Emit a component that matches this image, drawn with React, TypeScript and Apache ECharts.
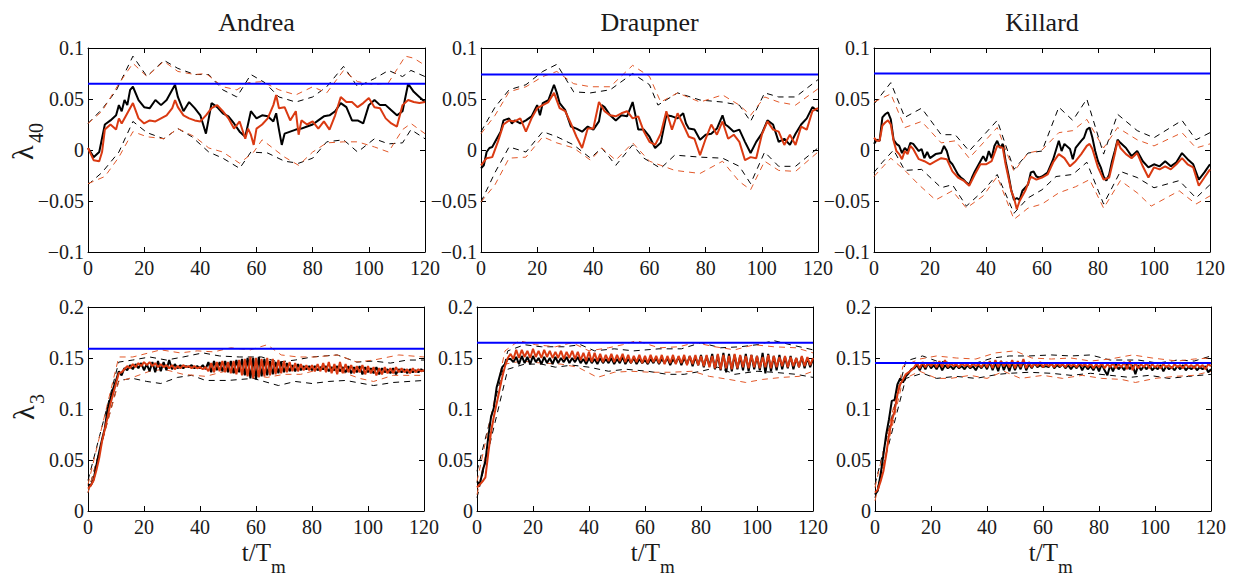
import React, { useEffect, useRef } from "react";
import * as echarts from "echarts";

const FONT = "'Liberation Serif', 'Times New Roman', serif";
const TXT = "#1a1a1a";
const RED = "#DA3A12";
const RED_D = "#E2592A";
const BLUE = "#0000FF";

const titles = ["Andrea", "Draupner", "Killard"];
const xMin = 0, xMax = 120, xStep = 20;
const topRange = [-0.1, 0.1];
const botRange = [0, 0.2];
const yStep = 0.05;

// ---------- lambda_40 (top row) : [t, value] ----------
const andreaL40Black = [[0,.002],[2,-.007],[4,-.002],[6,.025],[8,.029],[10,.034],[11,.044],[12,.038],[13,.049],[14,.044],[15,.059],[16,.062],[18,.049],[20,.042],[22,.041],[24,.049],[26,.044],[28,.049],[30,.059],[31,.064],[32,.052],[34,.038],[36,.047],[38,.041],[40,.034],[42,.016],[43,.031],[44,.046],[46,.042],[48,.036],[50,.033],[52,.026],[54,.018],[56,.013],[58,.038],[60,.031],[62,.034],[64,.033],[66,.028],[67,.036],[68,.020],[69,.005],[70,.016],[72,.018],[74,.020],[76,.021],[78,.023],[80,.025],[82,.029],[84,.033],[86,.034],[88,.038],[90,.046],[92,.042],[94,.029],[96,.029],[98,.026],[100,.044],[102,.049],[104,.044],[106,.044],[108,.039],[110,.034],[112,.038],[114,.065],[116,.057],[118,.052],[120,.047]];
const andreaL40Red = [[0,.002],[2,-.010],[4,-.011],[5,-.002],[6,.020],[8,.025],[10,.020],[11,.031],[12,.026],[14,.036],[16,.046],[18,.031],[20,.026],[22,.029],[24,.028],[26,.031],[28,.034],[30,.041],[31,.049],[32,.042],[34,.034],[36,.031],[38,.029],[40,.028],[42,.034],[44,.041],[46,.044],[48,.038],[50,.031],[52,.021],[54,.028],[56,.011],[57,.021],[58,.015],[59,.005],[60,.021],[62,.025],[64,.031],[66,.044],[67,.054],[68,.041],[70,.042],[72,.029],[74,.038],[75,.015],[76,.029],[78,.025],[80,.028],[82,.021],[84,.028],[86,.020],[88,.034],[90,.052],[92,.047],[94,.047],[96,.042],[98,.046],[100,.051],[102,.042],[104,.041],[106,.031],[108,.026],[110,.023],[112,.044],[114,.049],[116,.047],[118,.046],[120,.047]];
const andreaL40BlackUp = [[0,.026],[5,.040],[10,.058],[16,.092],[21,.072],[27,.088],[32,.080],[38,.074],[43,.074],[48,.059],[53,.052],[58,.074],[63,.066],[68,.052],[74,.047],[80,.052],[85,.062],[91,.082],[96,.062],[102,.070],[107,.078],[112,.072],[115,.078],[120,.072]];
const andreaL40RedUp = [[0,.026],[5,.038],[11,.065],[16,.085],[21,.072],[27,.087],[32,.077],[38,.074],[42,.075],[48,.062],[53,.059],[57,.066],[62,.067],[68,.059],[74,.054],[80,.062],[85,.056],[91,.078],[96,.067],[102,.064],[107,.066],[113,.092],[116,.090],[120,.083]];
const andreaL40BlackLo = [[0,-.034],[5,-.022],[11,-.002],[16,.028],[21,.017],[27,.011],[32,.021],[37,.013],[43,-.002],[48,-.008],[54,-.018],[58,-.002],[64,-.003],[70,-.011],[75,-.013],[80,-.008],[85,.008],[91,.010],[96,-.002],[102,.011],[107,.006],[112,.007],[115,.020],[120,.011]];
const andreaL40RedLo = [[0,-.033],[6,-.026],[11,-.007],[16,.018],[21,.013],[27,.011],[32,.021],[38,.013],[43,.002],[48,-.002],[54,-.013],[59,-.002],[62,.010],[70,-.007],[75,-.015],[80,-.002],[85,.007],[91,.008],[96,.008],[102,.003],[107,-.002],[112,.020],[115,.026],[120,.016]];

const draupnerL40Black = [[0,-.018],[1,-.015],[2,-.002],[3,.002],[4,.003],[6,.013],[7,.018],[8,.029],[10,.031],[11,.026],[12,.029],[14,.026],[16,.029],[18,.033],[20,.044],[21,.034],[22,.046],[24,.049],[26,.064],[27,.056],[28,.046],[30,.039],[32,.023],[34,.021],[36,.018],[38,.023],[40,.020],[42,.028],[43,.044],[44,.042],[46,.034],[48,.029],[50,.034],[52,.033],[54,.047],[55,.034],[56,.020],[58,.020],[60,.013],[62,.002],[64,.007],[66,.034],[68,.033],[70,.031],[72,.036],[73,.026],[74,.021],[76,.020],[78,.010],[80,.015],[82,.016],[84,.021],[86,.034],[87,.025],[88,.023],[90,.018],[92,.020],[94,.008],[96,-.003],[98,.008],[100,.016],[102,.029],[104,.025],[106,.008],[108,.011],[110,.005],[112,.016],[114,.025],[116,.031],[118,.042],[120,.038]];
const draupnerL40Red = [[0,-.015],[2,-.008],[4,-.007],[6,.008],[8,.025],[10,.029],[12,.028],[14,.031],[16,.018],[18,.031],[20,.041],[22,.044],[24,.047],[26,.056],[28,.041],[30,.038],[32,.026],[34,.013],[36,.002],[38,.021],[40,.021],[42,.047],[44,.038],[46,.034],[48,.033],[50,.036],[52,.038],[54,.031],[56,.033],[58,.018],[60,.008],[62,.005],[64,.016],[66,.038],[68,.020],[70,.036],[72,.025],[74,.013],[76,.011],[78,-.005],[80,.011],[82,.025],[84,.015],[86,.028],[88,.011],[90,.015],[92,.008],[94,-.010],[96,-.007],[98,-.008],[100,.015],[102,.028],[104,.020],[106,.018],[108,.005],[110,.015],[112,.005],[114,.023],[116,.020],[118,.038],[120,.041]];
const draupnerL40BlackUp = [[0,.018],[5,.042],[10,.059],[16,.064],[22,.077],[27,.084],[33,.057],[39,.056],[46,.059],[54,.075],[60,.064],[63,.044],[70,.056],[78,.049],[86,.047],[92,.044],[96,.028],[101,.056],[106,.052],[112,.052],[120,.069]];
const draupnerL40RedUp = [[0,.016],[5,.034],[10,.057],[16,.062],[22,.072],[27,.077],[33,.065],[39,.062],[46,.062],[54,.083],[60,.072],[64,.047],[70,.056],[78,.047],[86,.054],[92,.044],[96,.034],[101,.052],[106,.047],[112,.044],[120,.060]];
const draupnerL40BlackLo = [[0,-.051],[5,-.022],[10,.003],[16,-.002],[22,.018],[27,.013],[33,.005],[39,-.008],[43,.002],[48,-.015],[54,.005],[58,-.008],[64,-.018],[69,-.005],[78,-.007],[86,-.008],[92,-.016],[96,-.033],[101,-.002],[106,-.016],[112,-.016],[120,.002]];
const draupnerL40RedLo = [[0,-.051],[5,-.034],[10,-.008],[16,-.007],[22,.013],[27,.007],[33,.002],[39,-.010],[43,.002],[48,-.010],[54,.007],[60,-.011],[64,-.015],[69,-.020],[78,-.023],[86,-.011],[92,-.031],[96,-.039],[101,-.011],[106,-.020],[112,-.021],[120,-.002]];

const killardL40Black = [[0,.006],[1,.010],[2,.009],[3,.032],[4,.035],[5,.037],[6,.030],[7,.010],[8,.006],[9,.004],[10,-.003],[11,.002],[12,-.001],[13,.007],[14,.006],[16,-.001],[17,.001],[18,-.008],[19,-.002],[20,-.008],[22,-.004],[24,-.003],[25,.004],[26,-.001],[27,-.011],[28,-.014],[29,-.019],[30,-.024],[31,-.027],[32,-.029],[33,-.032],[34,-.034],[35,-.027],[36,-.021],[38,-.011],[39,-.006],[40,-.011],[41,-.001],[42,-.008],[43,.004],[44,.009],[45,.002],[46,.006],[47,-.011],[48,-.024],[49,-.039],[50,-.049],[51,-.047],[52,-.049],[53,-.040],[54,-.037],[55,-.034],[56,-.022],[57,-.021],[58,-.026],[59,-.027],[60,-.026],[62,-.022],[64,-.009],[66,.009],[67,-.001],[68,.006],[70,.001],[71,-.009],[72,.002],[74,.009],[75,.012],[76,.020],[77,.022],[78,.012],[79,-.001],[80,-.011],[81,-.017],[82,-.026],[83,-.030],[84,-.024],[85,-.011],[86,-.001],[87,.010],[88,.007],[90,.002],[92,-.006],[94,-.001],[96,-.011],[98,-.017],[100,-.014],[102,-.016],[104,-.011],[106,-.016],[108,-.012],[110,-.003],[112,-.009],[114,-.014],[116,-.029],[118,-.022],[120,-.014]];
const killardL40Red = [[0,.012],[1,.009],[2,.009],[3,.024],[4,.027],[5,.029],[6,.025],[7,.009],[8,-.001],[9,-.004],[10,-.009],[11,-.001],[12,-.004],[13,.004],[14,.001],[16,-.009],[18,-.011],[20,-.014],[22,-.011],[24,-.008],[26,-.009],[28,-.021],[30,-.027],[32,-.030],[34,-.035],[36,-.024],[38,-.014],[40,-.014],[42,-.011],[44,.004],[46,.002],[47,-.014],[48,-.027],[49,-.040],[50,-.047],[51,-.058],[52,-.050],[54,-.040],[56,-.026],[58,-.029],[60,-.027],[62,-.024],[64,-.012],[66,-.004],[68,-.008],[70,-.016],[72,-.011],[74,-.004],[76,.004],[77,.006],[78,.001],[80,-.017],[82,-.029],[84,-.027],[86,-.004],[87,.009],[88,.002],[90,-.004],[92,-.008],[94,-.003],[96,-.016],[98,-.027],[100,-.017],[102,-.019],[104,-.016],[106,-.019],[108,-.014],[110,-.008],[112,-.014],[114,-.017],[116,-.035],[118,-.027],[120,-.019]];
const killardL40BlackUp = [[0,.045],[6,.066],[11,.032],[17,.041],[24,.015],[29,.015],[34,-.001],[44,.029],[50,-.019],[55,-.003],[60,-.001],[66,.042],[71,.029],[76,.050],[82,-.004],[87,.035],[94,.019],[100,.012],[110,.029],[115,.010],[120,.017]];
const killardL40RedUp = [[0,.047],[6,.055],[11,.022],[17,.028],[24,.007],[29,.009],[34,-.008],[44,.022],[50,-.021],[55,-.003],[60,.000],[66,.017],[71,.019],[76,.030],[82,.002],[87,.022],[94,.010],[100,.004],[110,.017],[115,.002],[120,.006]];
const killardL40BlackLo = [[0,-.022],[3,-.012],[7,.000],[11,-.020],[17,-.019],[24,-.037],[28,-.034],[33,-.055],[39,-.040],[44,-.024],[50,-.062],[55,-.047],[60,-.039],[65,-.026],[71,-.024],[76,-.012],[82,-.053],[88,-.021],[94,-.027],[100,-.037],[109,-.030],[115,-.047],[120,-.034]];
const killardL40RedLo = [[0,-.026],[6,-.008],[11,-.020],[16,-.034],[22,-.049],[28,-.040],[33,-.057],[39,-.045],[44,-.026],[50,-.068],[55,-.057],[60,-.053],[66,-.042],[72,-.036],[77,-.029],[82,-.057],[88,-.030],[94,-.042],[99,-.055],[109,-.040],[115,-.053],[120,-.045]];

// ---------- lambda_3 (bottom row) : one value per t = 0..120 ----------
const andreaL3Black = [
  .026,.025,.031,.045,.058,.070,.081,.100,.110,.120,
  .128,.137,.133,.140,.138,.143,.139,.144,.140,.145,
  .138,.144,.137,.146,.136,.147,.137,.146,.138,.148,
  .139,.144,.140,.143,.140,.142,.141,.143,.140,.142,
  .140,.143,.139,.146,.136,.147,.138,.146,.137,.147,
  .136,.147,.135,.148,.136,.149,.133,.150,.130,.150,
  .129,.151,.132,.149,.133,.147,.134,.146,.135,.146,
  .136,.145,.137,.143,.137,.144,.138,.142,.139,.142,
  .138,.142,.138,.141,.139,.142,.137,.141,.138,.142,
  .137,.141,.136,.142,.135,.141,.136,.142,.134,.141,
  .136,.140,.135,.141,.134,.140,.136,.139,.135,.140,
  .134,.139,.136,.139,.135,.139,.136,.138,.136,.139,
  .137];
const andreaL3Red = [
  .022,.025,.030,.040,.052,.068,.080,.092,.105,.115,
  .125,.135,.136,.139,.142,.140,.144,.141,.145,.142,
  .146,.143,.146,.142,.145,.141,.144,.141,.143,.140,
  .143,.139,.142,.140,.143,.141,.142,.140,.142,.140,
  .141,.139,.141,.137,.145,.136,.146,.137,.147,.136,
  .146,.135,.147,.134,.148,.133,.149,.132,.151,.130,
  .150,.131,.149,.132,.150,.133,.149,.134,.148,.135,
  .147,.136,.146,.137,.145,.137,.144,.138,.143,.138,
  .143,.137,.144,.137,.145,.136,.146,.135,.144,.134,
  .146,.135,.144,.136,.143,.135,.142,.136,.143,.134,
  .142,.135,.141,.133,.140,.134,.141,.135,.140,.135,
  .141,.136,.140,.136,.139,.135,.140,.136,.139,.137,
  .138];
const draupnerL3Black = [
  .029,.026,.039,.049,.072,.092,.101,.121,.131,.141,
  .144,.149,.149,.146,.151,.144,.152,.145,.151,.144,
  .152,.146,.150,.144,.151,.145,.150,.144,.151,.145,
  .150,.146,.151,.145,.150,.146,.151,.145,.149,.144,
  .150,.145,.149,.144,.150,.145,.149,.145,.150,.144,
  .149,.145,.151,.144,.149,.145,.150,.144,.149,.145,
  .148,.144,.149,.145,.150,.144,.149,.145,.150,.143,
  .149,.145,.151,.143,.150,.144,.152,.142,.151,.143,
  .153,.141,.152,.142,.154,.139,.153,.138,.155,.136,
  .154,.137,.153,.139,.152,.138,.154,.137,.153,.139,
  .152,.138,.155,.135,.154,.137,.152,.138,.153,.139,
  .151,.140,.152,.139,.150,.141,.151,.140,.150,.141,
  .149];
const draupnerL3Red = [
  .023,.026,.029,.033,.056,.077,.092,.105,.118,.131,
  .142,.150,.154,.149,.158,.150,.158,.151,.157,.150,
  .159,.151,.157,.150,.158,.151,.157,.150,.156,.150,
  .157,.149,.156,.150,.157,.149,.156,.148,.155,.147,
  .156,.146,.155,.147,.154,.146,.153,.147,.154,.146,
  .153,.147,.154,.146,.153,.145,.152,.146,.153,.145,
  .152,.145,.153,.146,.152,.145,.153,.144,.152,.145,
  .153,.144,.152,.145,.153,.143,.152,.144,.153,.143,
  .152,.142,.153,.141,.152,.140,.154,.139,.153,.140,
  .152,.139,.154,.140,.153,.141,.152,.140,.153,.141,
  .152,.140,.151,.141,.153,.140,.152,.141,.151,.142,
  .152,.141,.151,.142,.150,.141,.152,.142,.151,.143,
  .150];
const killardL3Black = [
  .016,.020,.036,.055,.075,.090,.108,.109,.124,.130,
  .126,.132,.135,.139,.140,.143,.138,.144,.139,.145,
  .140,.143,.139,.144,.138,.143,.140,.142,.139,.143,
  .140,.142,.139,.143,.140,.142,.138,.143,.140,.144,
  .139,.146,.138,.145,.137,.147,.138,.145,.137,.146,
  .138,.145,.139,.147,.138,.144,.140,.145,.141,.143,
  .141,.142,.141,.145,.140,.143,.141,.144,.140,.143,
  .139,.143,.140,.144,.138,.143,.139,.142,.138,.143,
  .137,.144,.138,.133,.143,.137,.144,.139,.142,.138,
  .144,.139,.143,.134,.143,.138,.142,.139,.143,.138,
  .141,.139,.143,.137,.142,.139,.141,.138,.142,.139,
  .143,.138,.141,.139,.142,.138,.141,.139,.142,.136,
  .139];
const killardL3Red = [
  .018,.021,.029,.039,.055,.075,.088,.098,.114,.124,
  .129,.134,.136,.138,.141,.145,.140,.146,.141,.145,
  .142,.146,.141,.147,.141,.148,.141,.145,.142,.144,
  .141,.145,.142,.144,.141,.145,.142,.144,.141,.146,
  .141,.147,.140,.148,.141,.147,.142,.146,.141,.148,
  .140,.147,.141,.149,.140,.146,.141,.145,.142,.146,
  .141,.145,.142,.144,.141,.145,.142,.144,.141,.145,
  .142,.144,.141,.145,.142,.144,.141,.145,.140,.144,
  .141,.145,.140,.144,.141,.145,.140,.144,.141,.146,
  .139,.147,.138,.145,.140,.144,.141,.145,.140,.144,
  .141,.143,.140,.144,.141,.143,.140,.144,.141,.143,
  .140,.144,.141,.143,.140,.144,.141,.143,.139,.144,
  .142];

const andreaL3BlackUp = [[0,.030],[11,.146],[16,.148],[22,.151],[28,.148],[34,.151],[41,.155],[47,.152],[54,.151],[62,.151],[68,.146],[74,.148],[80,.151],[89,.153],[96,.146],[102,.147],[108,.145],[114,.148],[120,.148]];
const andreaL3BlackLo = [[0,.018],[11,.128],[16,.130],[21,.127],[26,.125],[32,.131],[37,.133],[42,.128],[50,.128],[59,.130],[68,.123],[74,.127],[80,.125],[86,.127],[92,.128],[102,.123],[109,.126],[120,.128]];
const andreaL3RedUp = [[0,.026],[11,.151],[16,.151],[26,.158],[33,.155],[39,.157],[45,.156],[51,.160],[58,.158],[64,.163],[69,.153],[75,.151],[81,.151],[89,.153],[96,.146],[102,.148],[111,.153],[120,.151]];
const andreaL3RedLo = [[0,.018],[11,.127],[16,.131],[22,.137],[27,.139],[34,.134],[42,.132],[49,.137],[57,.134],[64,.131],[70,.134],[76,.134],[83,.139],[90,.137],[97,.130],[102,.127],[109,.133],[120,.133]];
const draupnerL3BlackUp = [[0,.039],[11,.157],[17,.163],[23,.161],[31,.161],[37,.163],[42,.157],[49,.159],[56,.157],[65,.159],[73,.159],[80,.165],[87,.160],[94,.161],[100,.163],[106,.167],[112,.163],[120,.158]];
const draupnerL3BlackLo = [[0,.013],[11,.139],[17,.144],[23,.144],[28,.141],[34,.143],[40,.141],[47,.137],[53,.139],[61,.137],[68,.134],[74,.134],[80,.137],[86,.141],[92,.134],[100,.137],[106,.136],[114,.134],[120,.131]];
const draupnerL3RedUp = [[0,.029],[10,.157],[15,.167],[21,.163],[28,.161],[34,.165],[40,.157],[47,.160],[52,.163],[57,.167],[65,.160],[72,.161],[78,.165],[85,.161],[92,.158],[99,.163],[106,.161],[114,.160],[120,.155]];
const draupnerL3RedLo = [[0,.016],[10,.144],[16,.147],[23,.145],[30,.144],[36,.141],[43,.131],[49,.136],[55,.137],[62,.136],[69,.136],[77,.137],[83,.132],[90,.129],[96,.126],[102,.129],[109,.131],[115,.132],[120,.137]];
const killardL3BlackUp = [[0,.026],[11,.147],[17,.152],[22,.147],[29,.145],[36,.145],[42,.150],[48,.152],[55,.152],[63,.153],[70,.152],[77,.153],[84,.148],[94,.148],[101,.145],[108,.148],[114,.147],[120,.152]];
const killardL3BlackLo = [[0,.013],[11,.130],[17,.135],[22,.130],[29,.132],[36,.130],[44,.134],[48,.135],[55,.136],[63,.135],[70,.133],[77,.135],[84,.133],[91,.131],[98,.133],[105,.130],[112,.132],[120,.134]];
const killardL3RedUp = [[0,.023],[10,.142],[16,.149],[22,.152],[29,.150],[36,.149],[43,.155],[50,.157],[56,.150],[63,.149],[70,.150],[77,.147],[84,.149],[92,.153],[99,.150],[108,.147],[114,.149],[120,.150]];
const killardL3RedLo = [[0,.010],[10,.129],[16,.137],[22,.130],[27,.130],[34,.133],[40,.130],[46,.137],[52,.130],[60,.133],[67,.130],[74,.133],[81,.130],[88,.129],[93,.126],[100,.130],[107,.132],[114,.133],[120,.137]];

// theoretical (blue) levels
const blueTop = [0.065, 0.074, 0.075];
const blueBottom = [0.159, 0.165, 0.145];

const indexed = (arr: number[]) => arr.map((v, i) => [i, v]);

const panels = [
  { black: andreaL40Black, red: andreaL40Red, bu: andreaL40BlackUp, bl: andreaL40BlackLo, ru: andreaL40RedUp, rl: andreaL40RedLo, blue: blueTop[0], range: topRange },
  { black: draupnerL40Black, red: draupnerL40Red, bu: draupnerL40BlackUp, bl: draupnerL40BlackLo, ru: draupnerL40RedUp, rl: draupnerL40RedLo, blue: blueTop[1], range: topRange },
  { black: killardL40Black, red: killardL40Red, bu: killardL40BlackUp, bl: killardL40BlackLo, ru: killardL40RedUp, rl: killardL40RedLo, blue: blueTop[2], range: topRange },
  { black: indexed(andreaL3Black), red: indexed(andreaL3Red), bu: andreaL3BlackUp, bl: andreaL3BlackLo, ru: andreaL3RedUp, rl: andreaL3RedLo, blue: blueBottom[0], range: botRange },
  { black: indexed(draupnerL3Black), red: indexed(draupnerL3Red), bu: draupnerL3BlackUp, bl: draupnerL3BlackLo, ru: draupnerL3RedUp, rl: draupnerL3RedLo, blue: blueBottom[1], range: botRange },
  { black: indexed(killardL3Black), red: indexed(killardL3Red), bu: killardL3BlackUp, bl: killardL3BlackLo, ru: killardL3RedUp, rl: killardL3RedLo, blue: blueBottom[2], range: botRange },
];

const grids = [
  { left: 88, top: 48, width: 337, height: 204 },
  { left: 481, top: 48, width: 337, height: 204 },
  { left: 874, top: 48, width: 336, height: 204 },
  { left: 88, top: 307, width: 336, height: 204 },
  { left: 477, top: 307, width: 336, height: 204 },
  { left: 875, top: 307, width: 336, height: 204 },
];

const fmtY = (v: number) => String(parseFloat(v.toFixed(3))).replace("-", "\u2212");

function buildOption() {
  const xAxis: any[] = [];
  const yAxis: any[] = [];
  const series: any[] = [];
  const axisLine = { show: true, onZero: false, lineStyle: { color: "#000", width: 1 } };
  const tick = { show: true, inside: true, length: 5, lineStyle: { color: "#000", width: 1 } };
  grids.forEach((g, p) => {
    const pr = panels[p];
    xAxis.push({
      gridIndex: p, type: "value", min: xMin, max: xMax, interval: xStep, position: "bottom",
      axisLine, axisTick: tick, splitLine: { show: false },
      axisLabel: { show: true, fontFamily: FONT, fontSize: 20, color: TXT, margin: 6 },
    });
    xAxis.push({
      gridIndex: p, type: "value", min: xMin, max: xMax, interval: xStep, position: "top",
      axisLine, axisTick: tick, splitLine: { show: false }, axisLabel: { show: false },
    });
    yAxis.push({
      gridIndex: p, type: "value", min: pr.range[0], max: pr.range[1], interval: yStep, position: "left",
      axisLine, axisTick: tick, splitLine: { show: false },
      axisLabel: { show: true, fontFamily: FONT, fontSize: 20, color: TXT, margin: 4, formatter: fmtY },
    });
    yAxis.push({
      gridIndex: p, type: "value", min: pr.range[0], max: pr.range[1], interval: yStep, position: "right",
      axisLine, axisTick: tick, splitLine: { show: false }, axisLabel: { show: false },
    });
    const xi = p * 2, yi = p * 2;
    const base = { type: "line", xAxisIndex: xi, yAxisIndex: yi, symbol: "none", silent: true, z: 2 };
    series.push({ ...base, data: pr.bu, lineStyle: { color: "#000", width: 1, type: [6, 5] } });
    series.push({ ...base, data: pr.bl, lineStyle: { color: "#000", width: 1, type: [6, 5] } });
    series.push({ ...base, data: pr.ru, lineStyle: { color: RED_D, width: 1, type: [6, 5] } });
    series.push({ ...base, data: pr.rl, lineStyle: { color: RED_D, width: 1, type: [6, 5] } });
    series.push({ ...base, data: pr.black, lineStyle: { color: "#000", width: 2 } });
    series.push({ ...base, data: pr.red, lineStyle: { color: RED, width: 2 } });
    series.push({ ...base, data: [[xMin, pr.blue], [xMax, pr.blue]], lineStyle: { color: BLUE, width: 2 } });
  });

  const graphic: any[] = [];
  titles.forEach((t, i) => {
    const g = grids[i];
    graphic.push({
      type: "text", x: g.left + g.width / 2, y: 22,
      style: { text: t, fontFamily: FONT, fontSize: 26, fill: TXT, align: "center", verticalAlign: "middle", textAlign: "center", textVerticalAlign: "middle" },
    });
  });
  const yName = (x: number, y: number, sub: string, subOff: number) => ({
    type: "group", x, y, rotation: Math.PI / 2,
    children: [
      { type: "text", x: 0, y: -10, style: { text: "\u03bb", fontFamily: FONT, fontSize: 30, fill: TXT, align: "left", verticalAlign: "middle", textAlign: "left", textVerticalAlign: "middle" } },
      { type: "text", x: subOff, y: 4, style: { text: sub, fontFamily: FONT, fontSize: 20, fill: TXT, align: "left", verticalAlign: "middle", textAlign: "left", textVerticalAlign: "middle" } },
    ],
  });
  graphic.push(yName(32, 160, "40", 17));
  graphic.push(yName(33, 420, "3", 16));
  [3, 4, 5].forEach((p) => {
    const g = grids[p];
    const c = g.left + g.width / 2 + 15;
    graphic.push({ type: "text", x: c, y: 552, style: { text: "t/T", fontFamily: FONT, fontSize: 25, fill: TXT, align: "right", verticalAlign: "middle", textAlign: "right", textVerticalAlign: "middle" } });
    graphic.push({ type: "text", x: c, y: 566, style: { text: "m", fontFamily: FONT, fontSize: 19, fill: TXT, align: "left", verticalAlign: "middle", textAlign: "left", textVerticalAlign: "middle" } });
  });

  return {
    animation: false,
    backgroundColor: "#fff",
    grid: grids.map((g) => ({ ...g, containLabel: false })),
    xAxis, yAxis, series, graphic,
  };
}

export default function App() {
  const ref = useRef<HTMLDivElement>(null);
  useEffect(() => {
    if (!ref.current) return;
    const chart = echarts.init(ref.current, undefined, { renderer: "svg" });
    chart.setOption(buildOption() as any);
    return () => chart.dispose();
  }, []);
  return <div ref={ref} style={{ position: "absolute", left: 0, top: 0, width: 1243, height: 578 }} />;
}
